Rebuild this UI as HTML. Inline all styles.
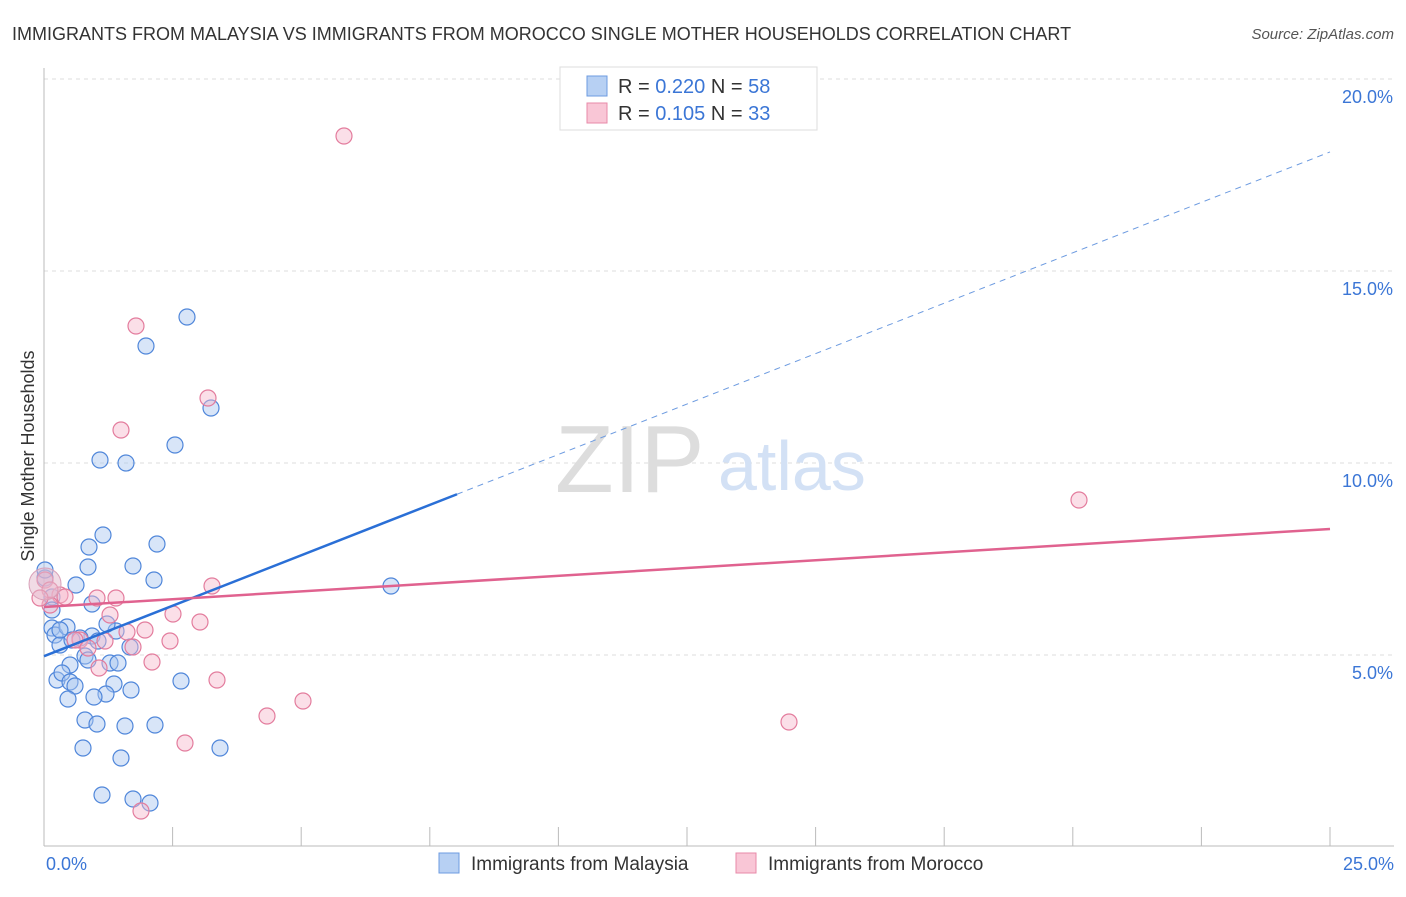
<!DOCTYPE html>
<html><head><meta charset="utf-8"><style>
body{margin:0;background:#fff;font-family:"Liberation Sans",sans-serif;}
svg text{font-family:"Liberation Sans",sans-serif;}
</style></head><body>
<svg width="1406" height="892">
<text x="12" y="40" font-size="18" fill="#333">IMMIGRANTS FROM MALAYSIA VS IMMIGRANTS FROM MOROCCO SINGLE MOTHER HOUSEHOLDS CORRELATION CHART</text>
<text x="1394" y="39" font-size="15" fill="#555" font-style="italic" text-anchor="end">Source: ZipAtlas.com</text>
<g id="grid"></g>
<g id="xticks"></g>
<line x1="44" y1="68" x2="44" y2="846" stroke="#bbb"/>
<line x1="44" y1="846" x2="1394" y2="846" stroke="#bbb"/>
<text x="555" y="492" font-size="96" fill="#ddd" font-family="Liberation Serif">ZIP</text>
<text x="718" y="490" font-size="70" fill="#d3e1f5">atlas</text>
<g id="pts"></g>
<g id="trends"></g>
<text x="46" y="870" font-size="18" fill="#3b76d6">0.0%</text>
<text x="1394" y="870" font-size="18" fill="#3b76d6" text-anchor="end">25.0%</text>
<text transform="translate(34,456) rotate(-90)" font-size="18" fill="#333" text-anchor="middle">Single Mother Households</text>
<g>
<rect x="560" y="67" width="257" height="63" fill="#fff" stroke="#ddd"/>
<rect x="587" y="76" width="20" height="20" fill="#b7d0f3" stroke="#6d9be0"/>
<rect x="587" y="103" width="20" height="20" fill="#f9c6d6" stroke="#e88aa8"/>
<text x="618" y="93" font-size="20" fill="#333">R = <tspan fill="#3b76d6">0.220</tspan>   N = <tspan fill="#3b76d6">58</tspan></text>
<text x="618" y="120" font-size="20" fill="#333">R =  <tspan fill="#3b76d6">0.105</tspan>   N = <tspan fill="#3b76d6">33</tspan></text>
</g>
<g>
<rect x="439" y="853" width="20" height="20" fill="#b7d0f3" stroke="#6d9be0"/>
<text x="471" y="870" font-size="19" fill="#333">Immigrants from Malaysia</text>
<rect x="736" y="853" width="20" height="20" fill="#f9c6d6" stroke="#e88aa8"/>
<text x="768" y="870" font-size="19" fill="#333">Immigrants from Morocco</text>
</g>
</svg>
<script>
const yTicks=[5,10,15,20];
const xTicks=[0,2.5,5,7.5,10,12.5,15,17.5,20,22.5,25];
const blueX=[187,146,211,175,100,126,103,89,157,88,133,154,76,45,52,52,92,391,52,55,67,92,116,107,80,98,130,60,72,85,110,118,70,88,57,62,70,75,114,131,106,94,68,181,85,97,125,155,83,220,121,102,133,150,45,60].map(p=>(p-44)/1286*25);
const blueY=[317,346,408,445,460,463,535,547,544,567,566,580,585,578,597,610,604,586,628,635,627,636,631,624,638,641,647,645,640,656,663,663,665,660,680,673,682,686,684,690,694,697,699,681,720,724,726,725,748,748,758,795,799,803,570,630].map(p=>(847-p)/192*5);
const pinkX=[344,136,208,121,1079,45,212,60,97,116,50,110,173,200,145,127,80,105,170,133,152,99,217,267,303,789,185,141,50,40,65,75,88].map(p=>(p-44)/1286*25);
const pinkY=[136,326,398,430,500,580,586,595,598,598,605,615,614,622,630,632,640,641,641,647,662,668,680,716,701,722,743,811,590,598,597,640,648].map(p=>(847-p)/192*5);
const blueTrend=[0,4.97,25,18.1];
const pinkTrend=[0,6.25,25,8.28];
const X=v=>44+v/25*1286, Y=v=>847-v/5*192;
const NS='http://www.w3.org/2000/svg';
function mk(t,a,p){const e=document.createElementNS(NS,t);for(const k in a)e.setAttribute(k,a[k]);p.appendChild(e);return e;}
const grid=document.getElementById('grid');
yTicks.forEach(v=>{
 const l=mk('line',{x1:44,x2:1394,y1:Y(v),y2:Y(v),stroke:'#ddd','stroke-dasharray':'4,4'},grid);
 
 
 const t=mk('text',{x:1393,y:Y(v)+24,'font-size':18,fill:'#3b76d6','text-anchor':'end'},grid);
 t.textContent=v.toFixed(1)+'%';
 
 
});
const gt=mk('line',{x1:44,x2:1394,y1:79,y2:79,stroke:'#ddd','stroke-dasharray':'4,4'},grid);
const xt=document.getElementById('xticks');
xTicks.forEach(v=>{
 const l=mk('line',{x1:X(v),x2:X(v),y1:827,y2:846,stroke:'#bbb'},xt);
 
 
});
const pts=document.getElementById('pts');
function dots(xs,ys,fill,stroke,name){xs.forEach((x,i)=>{
 const c=mk('circle',{cx:X(x),cy:Y(ys[i]),r:8,fill:fill,'fill-opacity':0.45,stroke:stroke,'stroke-width':1.2},pts);
 
 
});}
dots(blueX,blueY,'#a9c6f0','#4f86da','malaysia-point');
dots(pinkX,pinkY,'#f6b8cb','#e37c9d','morocco-point');
const big=mk('circle',{cx:X(0.02),cy:Y(6.85),r:16,fill:'#e4b8cc','fill-opacity':0.5,stroke:'#d9a0b8'},pts);


const tr=document.getElementById('trends');
const bxMid=(457-44)/1286*25, byMid=blueTrend[1]+(blueTrend[3]-blueTrend[1])*bxMid/25;
let l1=mk('line',{x1:X(blueTrend[0]),y1:Y(blueTrend[1]),x2:X(bxMid),y2:Y(byMid),stroke:'#2a6fd6','stroke-width':2.5},tr);


let l2=mk('line',{x1:X(bxMid),y1:Y(byMid),x2:X(blueTrend[2]),y2:Y(blueTrend[3]),stroke:'#6d9be0','stroke-width':1,'stroke-dasharray':'6,5'},tr);


let l3=mk('line',{x1:X(pinkTrend[0]),y1:Y(pinkTrend[1]),x2:X(pinkTrend[2]),y2:Y(pinkTrend[3]),stroke:'#e0628f','stroke-width':2.5},tr);


</script>
</body></html>
